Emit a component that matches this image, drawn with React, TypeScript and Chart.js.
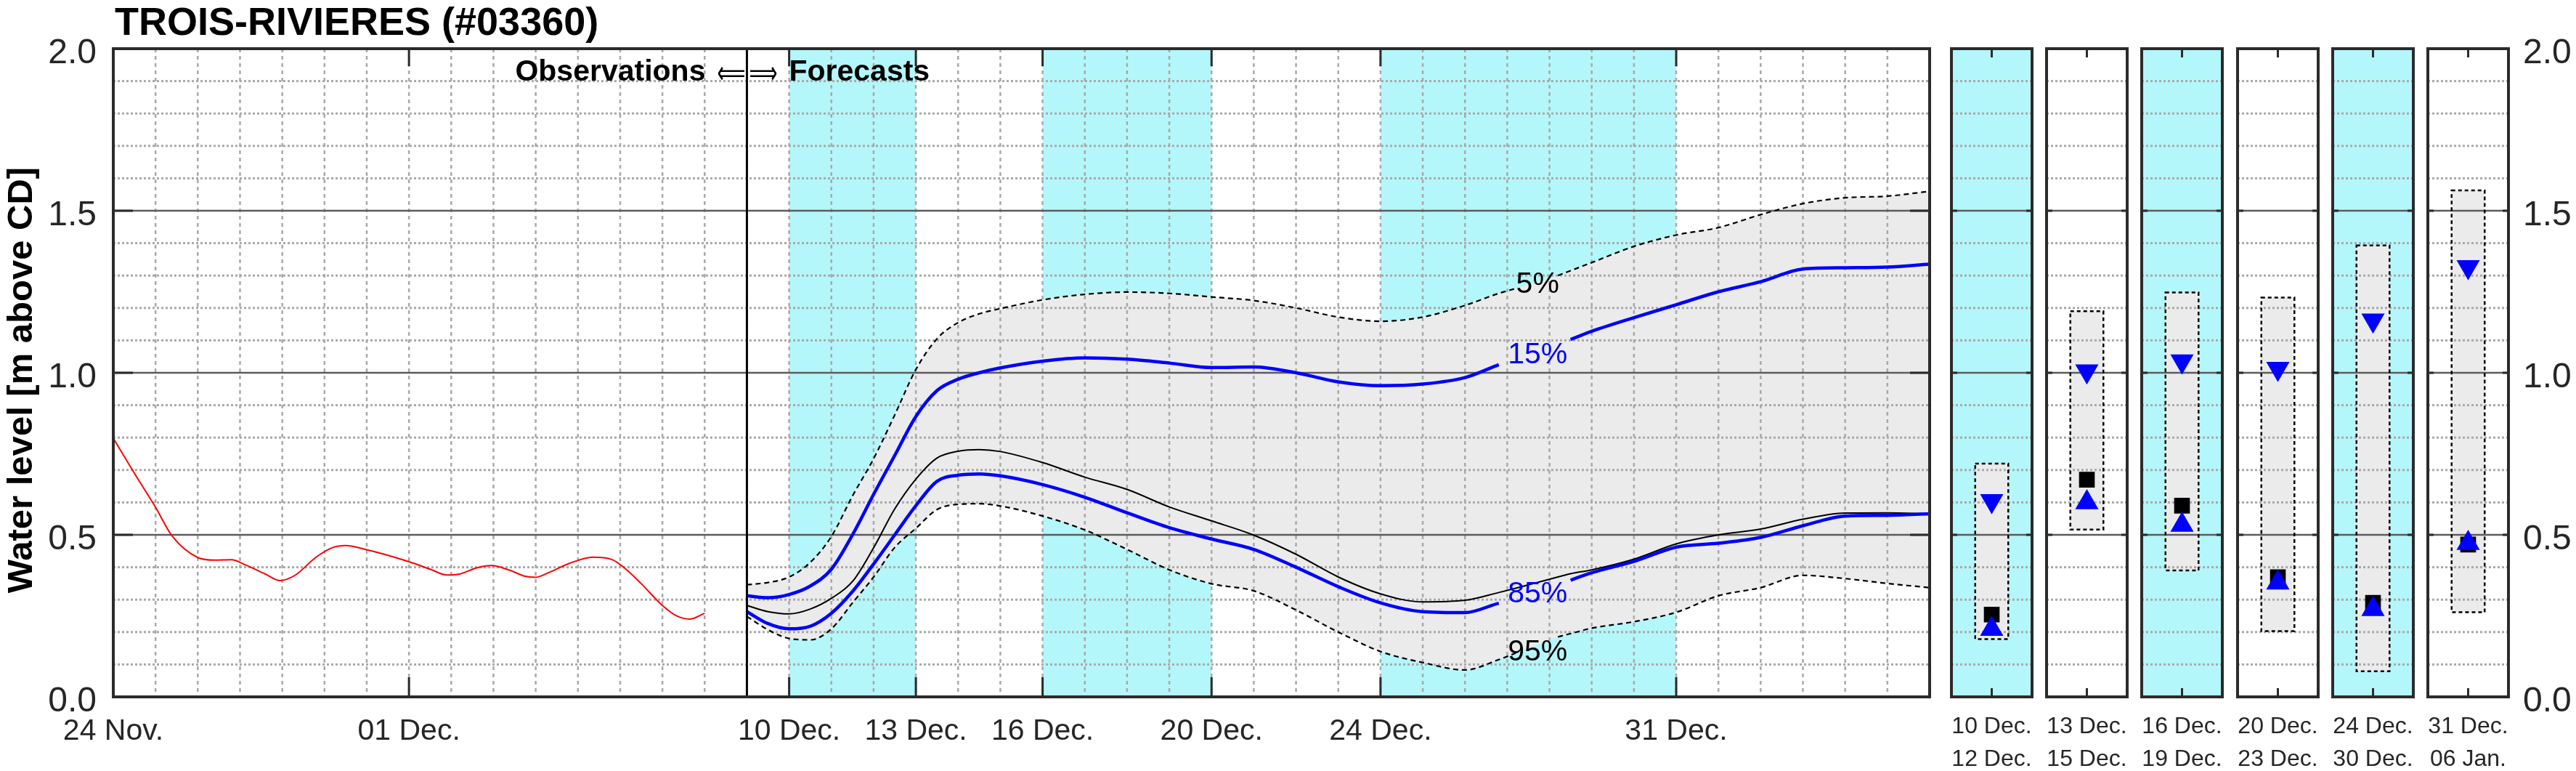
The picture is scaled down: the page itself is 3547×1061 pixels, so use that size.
import React, { useEffect, useRef } from "react";
import { Chart, registerables } from "chart.js";
Chart.register(...registerables);

// ---------------- data ----------------
const obsDays = [0, 0.5, 1.0, 1.4, 2.0, 2.4, 2.8, 3.1, 3.6, 3.95, 4.3, 4.8, 5.2, 5.5, 6.0, 7.0, 7.5, 7.9, 8.2, 8.6, 8.95, 9.4, 9.75, 10.0, 10.3, 10.8, 11.35, 11.8, 12.1, 12.5, 13.0, 13.35, 13.65, 14.0];
const obsLevels = [0.798, 0.69, 0.585, 0.495, 0.43, 0.422, 0.423, 0.409, 0.379, 0.359, 0.375, 0.431, 0.461, 0.467, 0.454, 0.417, 0.394, 0.376, 0.379, 0.398, 0.405, 0.39, 0.372, 0.369, 0.383, 0.412, 0.431, 0.424, 0.398, 0.349, 0.282, 0.249, 0.24, 0.258];

const fcDays = [15, 15.5, 16, 16.5, 17, 17.5, 18, 18.5, 19, 19.5, 20, 20.5, 21, 22, 23, 24, 25, 26, 27, 28, 29, 30, 31, 32, 32.8, 33.2, 34.2, 34.5, 35, 36, 37, 38, 39, 40, 41, 42, 43];
const fcP05 = [0.346, 0.353, 0.37, 0.415, 0.495, 0.62, 0.735, 0.87, 1.01, 1.105, 1.155, 1.182, 1.198, 1.225, 1.242, 1.249, 1.245, 1.234, 1.223, 1.2, 1.172, 1.159, 1.172, 1.208, 1.245, 1.26, 1.3, 1.315, 1.34, 1.39, 1.425, 1.448, 1.488, 1.522, 1.54, 1.545, 1.56];
const fcP15 = [0.312, 0.306, 0.316, 0.342, 0.394, 0.5, 0.625, 0.745, 0.865, 0.945, 0.98, 1.0, 1.015, 1.036, 1.046, 1.042, 1.03, 1.016, 1.018, 1.0, 0.972, 0.96, 0.965, 0.985, 1.025, 1.045, 1.09, 1.103, 1.128, 1.17, 1.21, 1.25, 1.281, 1.32, 1.324, 1.326, 1.335];
const fcP50 = [0.282, 0.263, 0.256, 0.271, 0.304, 0.356, 0.46, 0.58, 0.672, 0.737, 0.758, 0.763, 0.757, 0.723, 0.678, 0.64, 0.586, 0.543, 0.499, 0.44, 0.37, 0.318, 0.293, 0.298, 0.322, 0.335, 0.37, 0.38, 0.392, 0.425, 0.472, 0.5, 0.518, 0.548, 0.567, 0.568, 0.565];
const fcP85 = [0.263, 0.226, 0.21, 0.218, 0.258, 0.325, 0.41, 0.5, 0.59, 0.665, 0.684, 0.688, 0.682, 0.655, 0.616, 0.568, 0.522, 0.487, 0.455, 0.4, 0.34, 0.29, 0.263, 0.26, 0.289, 0.3, 0.345, 0.36, 0.383, 0.418, 0.462, 0.474, 0.492, 0.528, 0.558, 0.56, 0.565];
const fcP95 = [0.248, 0.207, 0.18, 0.176, 0.21, 0.29, 0.37, 0.461, 0.52, 0.578, 0.594, 0.596, 0.589, 0.558, 0.515, 0.455, 0.392, 0.349, 0.327, 0.268, 0.2, 0.14, 0.106, 0.083, 0.115, 0.135, 0.185, 0.195, 0.212, 0.232, 0.261, 0.312, 0.337, 0.375, 0.365, 0.35, 0.337];

const xTickDays = [0, 7, 16, 19, 22, 26, 30, 37];
const xTickLabels = ["24 Nov.", "01 Dec.", "10 Dec.", "13 Dec.", "16 Dec.", "20 Dec.", "24 Dec.", "31 Dec."];
const yTickValues = [0, 0.5, 1.0, 1.5, 2.0];
const yTickLabels = ["0.0", "0.5", "1.0", "1.5", "2.0"];
const cyanStartDays = [16, 22, 30];
const cyanEndDays = [19, 26, 37];
const forecastStartDay = 15;

const pctLabels = ["5%", "15%", "85%", "95%"];
const pctLabelLevels = [1.276, 1.058, 0.321, 0.141];
const pctLabelDay = 33.72;

const panelTopLabels = ["10 Dec.", "13 Dec.", "16 Dec.", "20 Dec.", "24 Dec.", "31 Dec."];
const panelBottomLabels = ["12 Dec.", "15 Dec.", "19 Dec.", "23 Dec.", "30 Dec.", "06 Jan."];
const panelCyan = [true, false, true, false, true, false];
const panelP95 = [0.178, 0.516, 0.39, 0.203, 0.079, 0.261];
const panelP05 = [0.72, 1.19, 1.248, 1.232, 1.393, 1.563];
const panelP15 = [0.605, 1.005, 1.036, 1.013, 1.162, 1.327];
const panelMedian = [0.254, 0.67, 0.59, 0.369, 0.29, 0.47];
const panelP85 = [0.209, 0.6, 0.53, 0.352, 0.27, 0.474];

// ---------------- layout / style ----------------
const W = 3547;
const H = 1061;
const PLOT_TOP = 67;
const PLOT_BOTTOM = 959;
const MAIN_LEFT = 156;
const MAIN_RIGHT = 2657;
const MAIN_CANVAS_W = 2700;
const PANEL_X0 = 2687;
const PANEL_STEP = 131.2;
const PANEL_W = 111;
const PANEL_PAD = 20;

const FONT = "'Liberation Sans', Arial, Helvetica, sans-serif";
const CYAN = "#b4f7fa";
const GRAY_FILL = "#ebebeb";
const GRID = "#a9a9a9";
const MAJOR = "#5c5c5c";
const FRAME = "#2b2b2b";
const TEXT = "#262626";
const BLUE = "#0000ff";

function drawHGrid(ctx: CanvasRenderingContext2D, y: any, a: any) {
  ctx.save();
  for (let k = 1; k < 20; k++) {
    const v = k / 10;
    const py = y.getPixelForValue(v);
    if (k % 5 === 0) {
      ctx.setLineDash([]);
      ctx.strokeStyle = MAJOR;
      ctx.lineWidth = 2.5;
    } else {
      ctx.setLineDash([3, 3]);
      ctx.strokeStyle = GRID;
      ctx.lineWidth = 3;
    }
    ctx.beginPath();
    ctx.moveTo(a.left, py);
    ctx.lineTo(a.right, py);
    ctx.stroke();
  }
  ctx.restore();
}

function drawScaledText(ctx: CanvasRenderingContext2D, t: string, x: number, y: number, targetW: number) {
  const w = ctx.measureText(t).width || 1;
  ctx.save();
  ctx.translate(x, y);
  ctx.scale(targetW / w, 1);
  ctx.textAlign = "left";
  ctx.fillText(t, 0, 0);
  ctx.restore();
}

const mainPlugin = {
  id: "mainDecor",
  beforeDatasetsDraw(chart: any) {
    const { ctx, chartArea: a, scales } = chart;
    const x = scales.x;
    ctx.save();
    ctx.fillStyle = CYAN;
    cyanStartDays.forEach((s, i) => {
      const x0 = x.getPixelForValue(s);
      const x1 = x.getPixelForValue(cyanEndDays[i]);
      ctx.fillRect(x0, a.top, x1 - x0, a.bottom - a.top);
    });
    ctx.restore();
  },
  afterDatasetDraw(chart: any, args: any) {
    if (args.index !== 0) return;
    const { ctx, chartArea: a, scales } = chart;
    const x = scales.x;
    const y = scales.y;
    ctx.save();
    ctx.setLineDash([5, 5]);
    ctx.strokeStyle = GRID;
    ctx.lineWidth = 2.5;
    for (let d = Math.ceil(x.min) + 1; d < x.max; d++) {
      const px = x.getPixelForValue(d);
      ctx.beginPath();
      ctx.moveTo(px, a.top);
      ctx.lineTo(px, a.bottom);
      ctx.stroke();
    }
    ctx.restore();
    drawHGrid(ctx, y, a);
  },
  afterDatasetsDraw(chart: any) {
    const { ctx, chartArea: a, scales } = chart;
    const x = scales.x;
    const y = scales.y;
    ctx.save();
    const dx = x.getPixelForValue(forecastStartDay);
    ctx.strokeStyle = "#000";
    ctx.lineWidth = 3;
    ctx.beginPath();
    ctx.moveTo(dx, a.top);
    ctx.lineTo(dx, a.bottom);
    ctx.stroke();
    ctx.strokeStyle = FRAME;
    ctx.lineWidth = 3;
    xTickDays.forEach((d) => {
      const px = x.getPixelForValue(d);
      ctx.beginPath();
      ctx.moveTo(px, a.bottom);
      ctx.lineTo(px, a.bottom - 27);
      ctx.moveTo(px, a.top);
      ctx.lineTo(px, a.top + 24);
      ctx.stroke();
    });
    yTickValues.forEach((v) => {
      const py = y.getPixelForValue(v);
      ctx.beginPath();
      ctx.moveTo(a.left, py);
      ctx.lineTo(a.left + 27, py);
      ctx.moveTo(a.right, py);
      ctx.lineTo(a.right - 27, py);
      ctx.stroke();
    });
    ctx.lineWidth = 4;
    ctx.strokeRect(a.left, a.top, a.right - a.left, a.bottom - a.top);
    ctx.font = `41px ${FONT}`;
    ctx.textAlign = "center";
    ctx.textBaseline = "middle";
    pctLabels.forEach((t, i) => {
      ctx.fillStyle = i === 1 || i === 2 ? BLUE : "#000";
      ctx.fillText(t, x.getPixelForValue(pctLabelDay), y.getPixelForValue(pctLabelLevels[i]) + 2);
    });
    ctx.restore();
  },
  afterDraw(chart: any) {
    const { ctx, chartArea: a, scales } = chart;
    const x = scales.x;
    const y = scales.y;
    ctx.save();
    ctx.fillStyle = TEXT;
    ctx.font = `48px ${FONT}`;
    ctx.textAlign = "right";
    ctx.textBaseline = "alphabetic";
    yTickValues.forEach((v, i) => {
      ctx.fillText(yTickLabels[i], a.left - 23, y.getPixelForValue(v) + 20);
    });
    ctx.font = `41px ${FONT}`;
    ctx.textAlign = "center";
    xTickDays.forEach((d, i) => {
      ctx.fillText(xTickLabels[i], x.getPixelForValue(d), a.bottom + 59);
    });
    ctx.fillStyle = "#000";
    ctx.font = `bold 54px ${FONT}`;
    ctx.textAlign = "left";
    ctx.fillText("TROIS-RIVIERES (#03360)", 158, 48);
    const dx = x.getPixelForValue(forecastStartDay);
    ctx.font = `bold 41px ${FONT}`;
    ctx.textAlign = "right";
    ctx.fillText("Observations", dx - 57, a.top + 44);
    ctx.textAlign = "left";
    ctx.fillText("Forecasts", dx + 58, a.top + 44);
    ctx.font = `44px 'DejaVu Sans', ${FONT}`;
    drawScaledText(ctx, "\u27F8", dx - 41, a.top + 48, 39);
    drawScaledText(ctx, "\u27F9", dx + 3, a.top + 48, 39);
    ctx.font = `bold 49px ${FONT}`;
    ctx.translate(44, (a.top + a.bottom) / 2 + 10);
    ctx.rotate(-Math.PI / 2);
    ctx.textAlign = "center";
    ctx.fillText("Water level [m above CD]", 0, 0);
    ctx.restore();
  },
};

function MainChart() {
  const ref = useRef<HTMLCanvasElement>(null);
  useEffect(() => {
    const xy = (xs: number[], ys: number[]) => xs.map((v, i) => ({ x: v, y: ys[i] }));
    const gap = (from: number, to: number) => (c: any) =>
      fcDays[c.p0DataIndex] >= from && fcDays[c.p1DataIndex] <= to ? "rgba(0,0,0,0)" : undefined;
    const base = { pointRadius: 0, cubicInterpolationMode: "monotone" as const, fill: false };
    const chart = new Chart(ref.current as HTMLCanvasElement, {
      type: "line",
      data: {
        datasets: [
          { ...base, data: xy(fcDays, fcP05), borderWidth: 0, borderColor: "rgba(0,0,0,0)", backgroundColor: GRAY_FILL, fill: "+1", order: 10 } as any,
          { ...base, data: xy(fcDays, fcP95), borderWidth: 0, borderColor: "rgba(0,0,0,0)", order: 10 },
          { ...base, data: xy(fcDays, fcP05), borderColor: "#000", borderWidth: 2.2, borderDash: [7, 5], segment: { borderColor: gap(33.2, 34.2) }, order: 4 },
          { ...base, data: xy(fcDays, fcP95), borderColor: "#000", borderWidth: 2.2, borderDash: [7, 5], segment: { borderColor: gap(33.2, 34.2) }, order: 4 },
          { ...base, data: xy(fcDays, fcP50), borderColor: "#000", borderWidth: 2, order: 3 },
          { ...base, data: xy(fcDays, fcP15), borderColor: BLUE, borderWidth: 4.5, segment: { borderColor: gap(32.8, 34.5) }, order: 2 },
          { ...base, data: xy(fcDays, fcP85), borderColor: BLUE, borderWidth: 4.5, segment: { borderColor: gap(32.8, 34.5) }, order: 2 },
          { ...base, data: xy(obsDays, obsLevels), borderColor: "#ff0000", borderWidth: 2, order: 1 },
        ],
      },
      options: {
        animation: false,
        responsive: false,
        devicePixelRatio: 1,
        events: [],
        layout: { padding: { left: MAIN_LEFT, right: MAIN_CANVAS_W - MAIN_RIGHT, top: PLOT_TOP, bottom: H - PLOT_BOTTOM } },
        scales: {
          x: { type: "linear", min: 0, max: 43, display: false },
          y: { type: "linear", min: 0, max: 2, display: false },
        },
        plugins: { legend: { display: false }, tooltip: { enabled: false }, filler: { propagate: false } },
      },
      plugins: [mainPlugin],
    });
    return () => chart.destroy();
  }, []);
  return <canvas ref={ref} width={MAIN_CANVAS_W} height={H} style={{ position: "absolute", left: 0, top: 0, width: MAIN_CANVAS_W, height: H }} />;
}

function Panel({ i }: { i: number }) {
  const ref = useRef<HTMLCanvasElement>(null);
  const left = Math.round(PANEL_X0 + PANEL_STEP * i);
  const isLast = i === panelTopLabels.length - 1;
  const cLeft = left - PANEL_PAD;
  const cWidth = isLast ? W - cLeft : PANEL_W + 2 * PANEL_PAD;
  const rightPad = cWidth - PANEL_PAD - PANEL_W;
  useEffect(() => {
    const plugin = {
      id: "panelDecor",
      beforeDatasetsDraw(chart: any) {
        const { ctx, chartArea: a } = chart;
        if (panelCyan[i]) {
          ctx.save();
          ctx.fillStyle = CYAN;
          ctx.fillRect(a.left, a.top, a.right - a.left, a.bottom - a.top);
          ctx.restore();
        }
      },
      afterDatasetDraw(chart: any, args: any) {
        if (args.index !== 0) return;
        const { ctx, chartArea: a, scales } = chart;
        drawHGrid(ctx, scales.y, a);
        const el = chart.getDatasetMeta(0).data[0];
        const top = Math.min(el.y, el.base);
        const bot = Math.max(el.y, el.base);
        ctx.save();
        ctx.strokeStyle = "#000";
        ctx.lineWidth = 2.5;
        ctx.setLineDash([5, 4]);
        ctx.strokeRect(el.x - el.width / 2, top, el.width, bot - top);
        ctx.restore();
      },
      afterDatasetsDraw(chart: any) {
        const { ctx, chartArea: a, scales } = chart;
        const y = scales.y;
        ctx.save();
        ctx.strokeStyle = FRAME;
        ctx.lineWidth = 3;
        const cx = (a.left + a.right) / 2;
        ctx.beginPath();
        ctx.moveTo(cx, a.top);
        ctx.lineTo(cx, a.top + 12);
        ctx.moveTo(cx, a.bottom);
        ctx.lineTo(cx, a.bottom - 12);
        yTickValues.forEach((v) => {
          const py = y.getPixelForValue(v);
          ctx.moveTo(a.left, py);
          ctx.lineTo(a.left + 8, py);
          ctx.moveTo(a.right, py);
          ctx.lineTo(a.right - 8, py);
        });
        ctx.stroke();
        ctx.lineWidth = 4;
        ctx.strokeRect(a.left, a.top, a.right - a.left, a.bottom - a.top);
        ctx.restore();
      },
      afterDraw(chart: any) {
        const { ctx, chartArea: a, scales } = chart;
        const y = scales.y;
        ctx.save();
        ctx.fillStyle = TEXT;
        ctx.font = `32px ${FONT}`;
        ctx.textAlign = "center";
        const cx = (a.left + a.right) / 2;
        ctx.fillText(panelTopLabels[i], cx, a.bottom + 50);
        ctx.fillText(panelBottomLabels[i], cx, a.bottom + 95);
        if (isLast) {
          ctx.font = `48px ${FONT}`;
          ctx.textAlign = "left";
          yTickValues.forEach((v, k) => {
            ctx.fillText(yTickLabels[k], a.right + 20, y.getPixelForValue(v) + 20);
          });
        }
        ctx.restore();
      },
    };
    const chart = new Chart(ref.current as HTMLCanvasElement, {
      type: "bar",
      data: {
        labels: [panelTopLabels[i]],
        datasets: [
          { type: "bar", data: [[panelP95[i], panelP05[i]]] as any, backgroundColor: GRAY_FILL, borderWidth: 0, barPercentage: 0.41, categoryPercentage: 1, order: 10 },
          { type: "line", data: [panelMedian[i]], showLine: false, pointStyle: "rect", pointRadius: 15.3, pointBackgroundColor: "#000", pointBorderWidth: 0, borderColor: "rgba(0,0,0,0)", order: 3 } as any,
          { type: "line", data: [panelP15[i]], showLine: false, pointStyle: "triangle", pointRotation: 180, pointRadius: 18.5, pointBackgroundColor: BLUE, pointBorderWidth: 0, borderColor: "rgba(0,0,0,0)", order: 2 } as any,
          { type: "line", data: [panelP85[i]], showLine: false, pointStyle: "triangle", pointRotation: 0, pointRadius: 18.5, pointBackgroundColor: BLUE, pointBorderWidth: 0, borderColor: "rgba(0,0,0,0)", order: 1 } as any,
        ],
      },
      options: {
        animation: false,
        responsive: false,
        devicePixelRatio: 1,
        events: [],
        layout: { padding: { left: PANEL_PAD, right: rightPad, top: PLOT_TOP, bottom: H - PLOT_BOTTOM } },
        scales: {
          x: { type: "category", display: false, offset: true },
          y: { type: "linear", min: 0, max: 2, display: false },
        },
        plugins: { legend: { display: false }, tooltip: { enabled: false } },
      },
      plugins: [plugin],
    });
    return () => chart.destroy();
  }, []);
  return <canvas ref={ref} width={cWidth} height={H} style={{ position: "absolute", left: cLeft, top: 0, width: cWidth, height: H }} />;
}

export default function App() {
  return (
    <div style={{ position: "absolute", left: 0, top: 0, width: W, height: H, background: "#fff", overflow: "hidden" }}>
      <MainChart />
      {panelTopLabels.map((_, i) => (
        <Panel key={i} i={i} />
      ))}
    </div>
  );
}
